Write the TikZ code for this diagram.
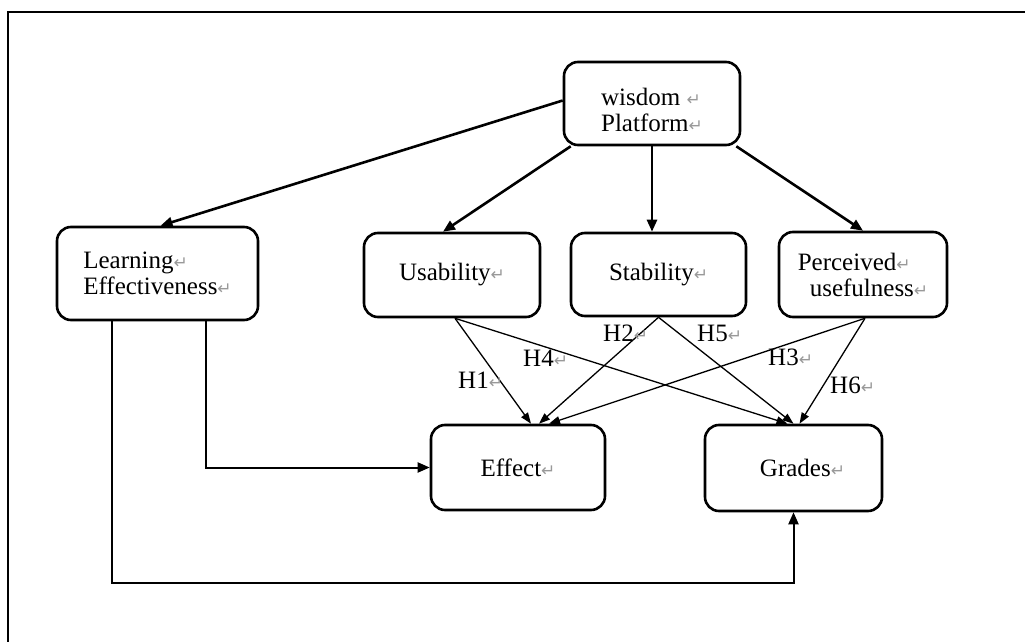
\documentclass[tikz,border=0pt]{standalone}
\usepackage{fontspec}
\setmainfont{Liberation Serif}
\newfontfamily\dejavu{DejaVu Sans}
\usetikzlibrary{arrows.meta,calc}
\newcommand\retmark{{\dejavu\fontsize{17pt}{17pt}\selectfont\color{black!40}↵}}
\begin{document}
\begin{tikzpicture}[x=1pt,y=-1pt,
  box/.style={draw, line width=2.6pt, rounded corners=14pt, inner sep=0pt,
    font=\fontsize{25pt}{26pt}\selectfont},
  bigarrow/.style={line width=2.6pt, -{Triangle[length=12pt,width=10pt]}},
  smallarrow/.style={line width=1.3pt, -{Triangle[length=11pt,width=8pt]}},
  elbow/.style={line width=2pt, -{Triangle[length=12pt,width=10pt]}},
  hlab/.style={anchor=west, inner sep=0pt, font=\fontsize{25pt}{26pt}\selectfont}]
\useasboundingbox (0,0) rectangle (1025,642);
% outer frame (cut at right and bottom)
\draw[line width=2.6pt] (8,642) -- (8,12) -- (1025,12);

% boxes
\node[box, minimum width=176pt, minimum height=83pt, align=left] (plat) at (652,103.5)
  {\rule{0pt}{30pt}wisdom \retmark\\Platform\retmark};
\node[box, minimum width=201pt, minimum height=93pt, align=left] (learn) at (157.5,273.5)
  {Learning\retmark\\Effectiveness\retmark};
\node[box, minimum width=176pt, minimum height=84pt] (use) at (452,275) {Usability\retmark};
\node[box, minimum width=175pt, minimum height=83pt] (sta) at (658.5,274.5) {Stability\retmark};
\node[box, minimum width=168pt, minimum height=85pt, align=left] (per) at (863,274.5)
  {Perceived\retmark\\\hspace*{12pt}usefulness\retmark};
\node[box, minimum width=174pt, minimum height=85pt] (eff) at (518,467.5) {Effect\retmark};
\node[box, minimum width=177pt, minimum height=86pt] (gra) at (793.5,468) {\hspace*{18pt}Grades\retmark};

% thick arrows from platform
\draw[bigarrow] ([yshift=3pt]plat.west) -- ([xshift=3pt]learn.north);
\draw[bigarrow] ([xshift=8pt]plat.south west) -- ([xshift=-9pt]use.north);
\draw[bigarrow] (plat.south) -- (plat.south |- sta.north);
\draw[bigarrow] ([xshift=-5pt]plat.south east) -- (per.north);

% elbow connectors from learning effectiveness
\draw[elbow] ([xshift=-53pt]learn.south east) |- (eff.west);
\draw[elbow] ([xshift=56pt]learn.south west) |- ([yshift=-71pt]gra.south) -- (gra.south);

% hypothesis arrows
\draw[smallarrow] ([xshift=3pt]use.south) -- ([xshift=13pt]eff.north);
\draw[smallarrow] ([xshift=3pt]use.south) -- ([xshift=-6pt]gra.north);
\draw[smallarrow] (sta.south) -- ([xshift=21pt]eff.north);
\draw[smallarrow] (sta.south) -- ([xshift=0pt]gra.north);
\draw[smallarrow] ([xshift=2pt]per.south) -- ([xshift=31pt]eff.north);
\draw[smallarrow] ([xshift=2pt]per.south) -- ([xshift=6pt]gra.north);

% labels
\node[hlab] (h1) at (458,380) {H1\retmark};
\node[hlab] (h4) at (523,358) {H4\retmark};
\node[hlab] (h2) at (603,333) {H2\retmark};
\node[hlab] (h5) at (697,333) {H5\retmark};
\node[hlab] (h3) at (768,357) {H3\retmark};
\node[hlab] (h6) at (830,385) {H6\retmark};
\end{tikzpicture}
\end{document}
